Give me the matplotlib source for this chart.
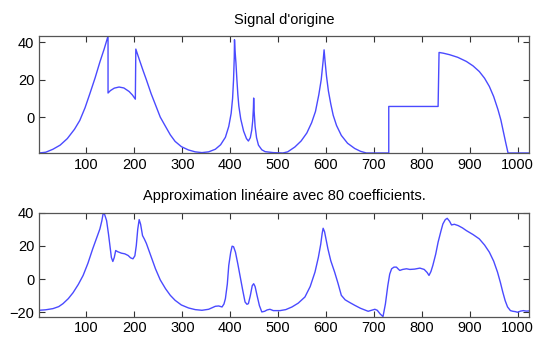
import matplotlib
matplotlib.use("Agg")
import matplotlib.pyplot as plt

# valeurs (abscisse, amplitude)
x_orig = [1, 15, 30, 45, 60, 75, 86, 97, 107, 118, 128, 137, 145,
          145, 150, 158, 168, 178, 189, 196, 202,
          203, 210, 218, 225, 235, 244, 254, 265, 275, 285, 298, 313, 327, 341,
          355, 369, 380, 390, 397, 402, 405, 407, 408.5, 409,
          410, 412, 414, 416, 418, 422, 428, 434, 438, 442, 445, 447, 448.5, 449,
          450, 452, 455, 459, 466, 473, 490, 510,
          520, 535, 548, 560, 570, 578, 585, 590, 594, 596,
          598, 601, 605, 610, 615, 622, 632, 645, 660, 672, 684, 731,
          731, 834,
          836, 845, 858, 875, 893, 907, 920, 931, 941, 950, 959, 965, 970, 975, 980, 1024]
y_orig = [-19.2, -18.8, -17.2, -15.0, -11.5, -6.5, -1.8, 5.0, 12.5, 21.0, 29.5, 36.5, 43.4,
          12.9, 14.2, 15.5, 16.1, 15.6, 13.7, 11.8, 9.6,
          36.4, 31.0, 25.0, 20.0, 12.5, 6.6, 0.0, -5.0, -9.5, -13.0, -15.8, -17.6, -18.6, -19.0,
          -18.6, -17.2, -14.8, -10.8, -5.0, 2.0, 10.0, 20.0, 32.0, 41.4,
          36.0, 29.0, 20.0, 12.0, 6.0, -1.0, -7.5, -11.5, -12.8, -11.0, -7.0, -2.0, 5.0, 10.2,
          3.0, -5.0, -11.0, -15.0, -17.5, -18.5, -19.0, -19.2,
          -18.6, -16.0, -12.8, -8.5, -3.0, 3.0, 12.0, 20.0, 30.0, 36.0,
          30.0, 22.0, 14.0, 7.0, 1.0, -4.5, -9.8, -14.0, -16.8, -18.3, -19.2, -19.2,
          5.7, 5.7,
          34.6, 34.2, 33.4, 32.0, 29.8, 27.4, 24.4, 20.8, 16.4, 11.0, 4.0, -1.5, -7.5, -13.5, -19.2, -19.2]

x_approx = [1, 15, 30, 42, 51, 62, 72, 83, 93, 103, 113, 121, 128, 132, 135, 138, 142,
            146, 149, 152, 155, 158, 161, 165, 173, 180, 187, 192, 197, 201, 204, 207,
            210, 213, 217, 221, 225, 235, 244, 254, 265, 275, 285, 298, 313, 327, 341,
            355, 369, 376, 383, 387, 390, 394, 397, 401, 404, 407, 411, 416, 421, 426,
            431, 435, 438, 442, 446, 449, 452, 456, 461, 466, 472, 477, 483, 490, 504,
            516, 529, 542, 556, 567, 577, 584, 589, 592, 594, 597, 600, 604, 610, 618,
            625, 632, 640, 650, 660, 672, 688, 697, 702, 707, 713, 719, 724, 729, 733,
            737, 742, 747, 751, 754, 760, 768, 775, 785, 796, 805, 811, 815, 819, 823,
            829, 834, 840, 844, 849, 853, 858, 862, 868, 876, 885, 893, 907, 920, 931,
            941, 950, 958, 964, 969, 974, 979, 985, 990, 995, 1000, 1006, 1012, 1018, 1024]
y_approx = [-18.8, -18.5, -17.8, -16.6, -14.8, -11.8, -8.2, -3.2, 2.2, 9.5, 18.2, 24.5,
            30.2, 35.0, 39.8, 38.8, 35.2, 27.0, 20.2, 13.0, 10.6, 13.0, 17.2, 16.5, 15.6,
            15.2, 14.2, 12.8, 12.2, 14.0, 20.2, 30.0, 35.8, 33.0, 26.2, 24.0, 21.5, 13.5,
            6.2, -0.5, -5.8, -9.8, -12.8, -15.6, -17.4, -18.4, -18.8, -18.2, -16.4, -16.2,
            -16.8, -15.0, -11.8, -3.0, 8.2, 16.0, 19.8, 19.5, 16.2, 9.0, 1.2, -6.5, -13.8,
            -15.2, -14.8, -10.0, -4.0, -2.8, -4.5, -9.8, -16.0, -19.8, -19.4, -18.6, -18.2,
            -19.0, -19.0, -18.4, -16.8, -14.5, -10.8, -4.5, 4.2, 13.0, 21.0, 27.5, 30.6,
            28.5, 24.0, 18.2, 11.0, 4.2, -2.5, -9.8, -12.5, -14.2, -15.8, -17.6, -19.4,
            -18.6, -18.2, -18.8, -21.0, -22.6, -15.0, -4.0, 3.0, 6.2, 7.2, 7.2, 6.0, 5.2,
            5.8, 6.2, 5.8, 6.0, 6.6, 5.8, 4.0, 2.2, 4.5, 8.2, 15.0, 22.2, 29.0, 33.2, 35.8,
            36.6, 34.8, 32.6, 33.0, 32.2, 30.8, 29.2, 26.8, 24.2, 20.5, 16.2, 10.8, 4.2,
            -2.0, -7.8, -13.0, -16.8, -19.0, -19.4, -19.6, -20.0, -19.3, -19.0, -19.3, -19.2]

x_ticks = [100, 200, 300, 400, 500, 600, 700, 800, 900, 1000]
y_ticks_haut = [0, 20, 40]
y_ticks_bas = [-20, 0, 20, 40]

titre_haut = "Signal d'origine"
titre_bas = "Approximation linéaire avec 80 coefficients."

plt.rcParams['font.family'] = ['Liberation Sans', 'DejaVu Sans']

fig = plt.figure(figsize=(5.35, 3.43), dpi=100)
ax1 = fig.add_axes([0.073, 0.554, 0.916, 0.341])
ax2 = fig.add_axes([0.073, 0.077, 0.916, 0.303])

for ax, xs, ys, yt, titre in [(ax1, x_orig, y_orig, y_ticks_haut, titre_haut),
                              (ax2, x_approx, y_approx, y_ticks_bas, titre_bas)]:
    ax.plot(xs, ys, color='#4a4aff', lw=1.0)
    ax.set_xlim(1, 1024)
    ax.set_ylim(min(ys), max(ys))
    ax.set_xticks(x_ticks)
    ax.set_yticks(yt)
    ax.tick_params(direction='in', top=True, right=True, length=4,
                   labelsize=10.5, color='#333333', width=0.8)
    for s in ax.spines.values():
        s.set_color('#555555')
        s.set_linewidth(0.9)
    ax.set_title(titre, fontsize=10.5, pad=9)

fig.savefig("out.png", dpi=100)
